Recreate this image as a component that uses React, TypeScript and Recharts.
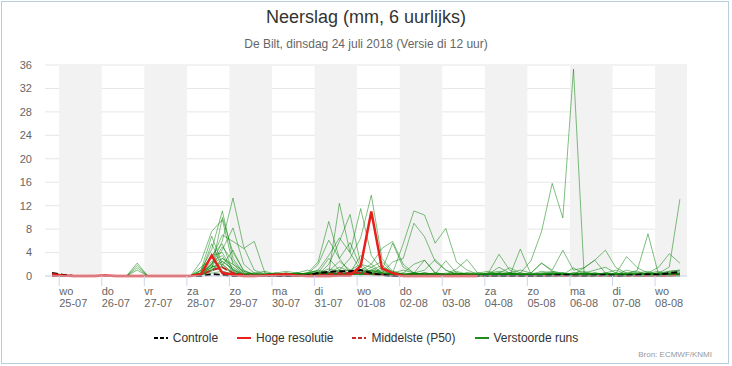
import React from "react";
import { LineChart, Line, XAxis, YAxis, CartesianGrid, ReferenceArea } from "recharts";

// hours after wo 25-07 00:00 (6-hourly forecast steps)
const hours = [
  -4, 2, 8, 14, 20, 26, 32, 38, 44, 50, 56, 62, 68, 74, 80, 86, 92, 98, 104, 110,
  116, 122, 128, 134, 140, 146, 152, 158, 164, 170, 176, 182, 188, 194, 200, 206, 212, 218, 224, 230,
  236, 242, 248, 254, 260, 266, 272, 278, 284, 290, 296, 302, 308, 314, 320, 326, 332, 338, 344, 350,
];

const dayNames = ["wo", "do", "vr", "za", "zo", "ma", "di", "wo", "do", "vr", "za", "zo", "ma", "di", "wo"];
const dayDates = ["25-07", "26-07", "27-07", "28-07", "29-07", "30-07", "31-07", "01-08", "02-08", "03-08", "04-08", "05-08", "06-08", "07-08", "08-08"];
const dayTicks = [0, 24, 48, 72, 96, 120, 144, 168, 192, 216, 240, 264, 288, 312, 336];
const yTicks = [0, 4, 8, 12, 16, 20, 24, 28, 32, 36];
const shadedDays = [[0, 24], [48, 72], [96, 120], [144, 168], [192, 216], [240, 264], [288, 312], [336, 354]];

const controle = [0.5,0.2,0,0, 0,0,0,0, 0,0,0,0, 0,0,0,0.3, 0.2,0,0,0, 0,0,0,0, 0.1,0.5,0.7,0.8, 0.8,1.0,0.5,0.2, 0,0,0,0, 0,0,0,0, 0,0,0,0, 0,0,0,0.1, 0.2,0.1,0,0.1, 0.2,0,0.1,0.2, 0.3,0.2,0.5,0.7];
const hogeResolutie = [0.3,0.1,0,0, 0,0.1,0,0, 0,0,0,0, 0,0,0.3,3.5, 0.5,0.2,0,0, 0.1,0.2,0.3,0.1, 0,0,0,0.1, 0.1,1.7,11.0,1.3, 0.5,0,0,0, 0,0,0,0, 0,null,null,null, null,null,null,null, null,null,null,null, null,null,null,null, null,null,null,null];
const middelste = [0,0,0,0, 0,0,0,0, 0,0,0,0, 0,0,0.2,1.0, 1.5,0.5,0.2,0, 0,0,0,0, 0,0.2,0.3,0.5, 0.5,0.5,0.3,0.2, 0,0,0,0, 0,0,0,0, 0,0,0,0, 0,0,0,0, 0,0,0,0, 0,0,0,0, 0,0,0,0.2];

const m01 = [0,0,0,0, 0,0,0,0, 0,0,0,0, 0,0,0.5,2.0, 6.0,13.3,5.0,1.0, 0.3,0.2,0.5,0.3, 0.2,0.5,1.2,0.8, 0.5,0.3,0.2,0.1, 0,0.2,0.5,0.3, 0.2,0.1,0,0, 0,0,0.3,0.5, 0.2,0,0,0, 0,0.2,0.5,0.3, 0.2,0,0,0.3, 0.5,0.2,0,0.3];
const m02 = [0,0,0,0, 0,0,0,0, 0,0,0,0, 0,0,1.0,4.5, 11.1,3.0,0.5,0.2, 0,0,0,0.3, 0.5,2.4,9.3,3.0, 0.5,0.2,0.3,1.5, 0.8,0.3,0.2,0, 0,0,0.3,0.2, 0,0.5,3.7,1.0, 0.2,0,0.3,0.5, 0.3,0.2,0,0, 0.2,0.5,0.3,0, 0,0.2,0.3,0.2];
const m03 = [0,0,0,0, 0,0,0,0, 0,0,0,0, 0,0,2.5,7.6, 9.6,2.0,0.3,0, 0,0.2,0.3,0.5, 0.3,0.5,0.5,12.4, 4.0,1.0,0.5,0.2, 0,0,0.3,0.5, 0.3,0,0,0, 0.2,0.4,0.3,0, 4.6,0.3,0.2,0, 0,0.3,0.5,0.2, 0,0,0.2,0, 0.3,0,0.2,0.5];
const m04 = [0,0,0,0, 0,0,0,0, 0,0,0,0, 0,0,1.5,3.0, 7.0,5.9,4.7,5.9, 0.5,0.3,0.2,0, 0,0.2,2.0,5.9, 10.5,2.0,0.5,0.3, 0.2,0,0,0, 0,0.2,0.3,0, 0,0,0,0.3, 0.2,0,0,0, 0,0,0.2,0.3, 0.5,0.2,0,0, 0,0,0.3,0.2];
const m05 = [0,0,0,0, 0,0,0,0, 0,0,0,0, 0,0,0.5,1.5, 2.5,1.0,0.3,0, 0,0,0.2,0.3, 0.3,0.2,0.5,0.3, 0.5,0.8,1.0,0.5, 0.3,0.2,0.5,0.3, 0,0.2,0.3,0, 0,0,0.2,0.3, 0.5,2.6,7.6,15.8, 9.9,35.3,0.3,0.2, 0,0.2,0.3,0, 0,0,0.2,0.3];
const m06 = [0,0,0,0, 0,0,0,0, 0,0,0,0, 0,0,0.8,3.5, 4.0,1.0,0.2,0, 0,0.2,0.3,0.2, 0.2,0.3,0.5,1.0, 3.0,6.5,13.8,3.0, 0.8,0.3,0.2,0, 0,0,0.2,0.3, 0,0,0,0.2, 0,0,0.3,0.2, 0,0,0,0.2, 0.3,0,0,0, 0,0,0,0.3];
const m07 = [0,0,0,0, 0,0,0,0, 0,0,0,0, 0,0,0.3,2.0, 5.0,2.5,0.5,0.2, 0,0,0.3,0.5, 0.3,1.0,3.5,6.5, 4.0,11.5,3.5,1.0, 0.3,0,0,0.2, 0.3,0,0,0, 0,0.3,0.5,0.2, 0,0,0,0.3, 0.5,0.2,0,0, 0,0.3,0.2,0, 0,0.3,0,0];
const m08 = [0,0,0,0, 0,0,0,0, 0,0,0,0, 0,0,0.2,1.0, 3.0,1.5,0.3,0, 0,0,0.2,0.3, 0.5,0.3,0.2,0.5, 0.3,0.5,1.0,0.5, 0.5,5.5,11.1,10.4, 5.6,8.1,2.4,1.0, 0.3,0.2,0,0, 0,0.2,0,0, 0,0,0.2,0, 0,0,0.2,0, 0,0,0,0.2];
const m09 = [0,0,0,0, 0,0,0,0, 0,0,0,0, 0,0,0.3,1.5, 2.0,0.5,0.2,0, 0,0.3,0.5,0.2, 0.2,0.3,0.5,0.8, 1.0,2.0,1.5,0.5, 2.4,3.0,9.0,6.7, 2.5,1.0,0.3,0.2, 0,0.3,1.5,0.5, 0.2,0,0,0.2, 0.3,0,0,0.2, 0,0,0,0.2, 0,0,0,0];
const m10 = [0.5,0,0,0, 0,0,0,0, 0,0,0,0, 0,0,0.3,1.0, 1.5,0.5,0.2,0, 0.2,0.3,0.2,0, 0,0.2,0.3,0.2, 0.3,0.2,0.5,0.3, 0.2,0.3,0,0, 0,0.2,0.5,0.3, 0.2,0,0.5,0.3, 0,0,0.2,0.5, 0.3,0.2,1.4,2.7, 4.4,1.4,0.5,0.3, 0.2,0.5,1.5,13.1];
const m11 = [0.3,0,0,0, 0,0,0,0, 0,0,0,0, 0,0,0.2,0.5, 0.8,0.3,0.2,0, 0.3,0.5,0.3,0.2, 0.2,0.5,0.3,0.2, 0.2,0.5,0.8,0.5, 0.3,0.2,0.5,1.0, 2.8,1.0,0.3,0, 0,0,0.2,0.3, 0.2,0,0.3,0.2, 0,0,0,0.3, 0.5,1.0,0.3,1.0, 7.2,0.2,0.5,0.3];
const m12 = [0,0,0,0, 0,0,0,0, 0,0,0,0, 0,0,0.5,2.5, 3.5,0.5,0.2,0, 0,0,0.2,0.2, 0.3,0.5,0.3,0.2, 0.5,0.3,0.8,1.0, 5.6,1.5,0.5,0.3, 0.2,0.3,0,0, 0.3,0.2,0,0, 0.3,0.2,0.3,0.5, 0.2,0,0.5,1.0, 1.5,0.5,3.3,1.4, 0.5,1.5,3.8,2.2];
const m13 = [0,0,0,0, 0,0,0,0, 0,0,0,0, 0,0,0.2,1.2, 10.0,4.0,1.0,0.2, 0,0,0,0.2, 0.2,0.3,0.5,0.3, 0.2,0.5,0.3,0.2, 0,0.2,0.3,0.5, 0.3,0.2,0.3,0.5, 0.3,0.2,0,0.5, 1.0,0.5,2.2,1.0, 4.4,1.0,1.4,2.7, 0.5,0.3,0.2,0, 0.2,0,0.3,0.5];
const m14 = [0,0,0,0, 0,0,0,0, 0,0,0,0, 0,0,0.5,5.5, 1.5,0.5,0.2,0, 0.2,0.5,0.8,0.5, 0.3,2.0,6.1,3.0, 5.7,1.5,0.5,0.3, 0.5,0.3,0.2,0.3, 0.5,0.3,0.2,0, 0.2,0.5,0.3,0, 0,0.3,0.5,0.2, 0.3,0,0,0, 0,0.2,0.3,0.5, 0.3,0.5,0.2,0];
const m15 = [0,0,0,0, 0,0,0,0, 2.2,0,0,0, 0,0,0.3,1.5, 4.5,8.2,2.0,0.5, 0.2,0,0.2,0.3, 0.5,1.0,0.5,0.3, 0.5,1.0,2.0,4.7, 5.9,2.0,0.5,0.2, 0,0.2,0.3,0.2, 0,0,0.3,0.5, 0.3,0.2,0,0, 0,0.5,0.3,0, 0.2,0,0,0, 0,0.3,0.5,0.3];
const m16 = [0,0,0,0, 0,0,0,0, 1.8,0,0,0, 0,0,1.0,6.8, 2.0,0.5,0.3,0.2, 0.3,0.5,0.3,0.2, 0.2,0.5,3.0,1.0, 0.5,3.5,2.0,0.5, 0.3,0.5,2.0,2.7, 0.5,0.3,0.8,0.3, 0.2,0.3,0.5,1.4, 0.5,0.2,0.3,0.3, 0.2,1.4,0.3,0.5, 0.3,0.2,0,0.3, 0.5,0.3,0.8,1.0];
const m17 = [0,0,0,0, 0,0,0,0, 1.4,0,0,0, 0,0,0.5,3.5, 5.5,0.8,0.2,0, 0,0.3,0.2,0.5, 1.0,0.5,0.2,0.5, 0.3,0.5,1.0,1.8, 0.5,0.3,0.2,0.5, 0.3,2.6,0.5,0.2, 0.5,0.3,0.2,0.5, 0.3,0.5,0.3,0.2, 0.5,0.3,0.2,0.5, 0.3,0.2,0.5,0.3, 0.3,0.5,0.3,0.5];
const m18 = [0.3,0.2,0,0, 0,0.1,0,0, 1.0,0,0,0, 0,0,0.2,1.0, 2.5,1.2,0.3,0.5, 0.2,0.3,0.5,0.2, 0.5,0.3,0.5,1.5, 0.8,0.5,0.3,0.5, 0.2,0.5,0.3,0.2, 0.5,0.3,0.2,0.5, 0.3,0.5,0.8,0.5, 0.2,0.3,0.8,0.5, 0.3,0.5,0.8,0.3, 0.5,0.3,0.5,0.8, 0.3,0.5,0.8,1.0];
const m19 = [0,0,0,0, 0,0,0,0, 0,0,0,0, 0,0,0.3,2.2, 3.0,2.0,0.8,0.3, 0.5,0.3,0.2,0.5, 0.3,0.5,0.8,2.5, 1.0,0.5,0.2,0.3, 0.5,0.2,0.5,0.3, 0.2,0.5,0.3,0.5, 0.5,0.8,0.3,0.2, 0.5,0.3,0.5,0.8, 0.5,0.3,0.5,0.3, 0.2,0.5,0.3,0.5, 0.8,0.3,0.5,0.8];
const m20 = [0,0,0,0, 0,0,0,0, 0,0,0,0, 0,0,0.5,1.8, 0.8,0.3,0.2,0.5, 0.8,0.3,0.2,0.3, 0.5,0.8,0.3,0.5, 0.5,0.3,0.5,0.8, 0.3,0.2,0.3,0.5, 0.3,0.2,0.5,0.3, 0.2,0.3,0.5,0.2, 0.3,0.2,0.3,0.5, 0.5,0.2,0.3,0.5, 0.3,0.5,0.2,0.3, 0.5,0.8,0.3,0.5];
const m21 = [0,0,0,0, 0,0,0,0, 0,0,0,0, 0,0,0.2,0.8, 1.8,4.4,0.8,0.3, 0.2,0,0.2,0.3, 0.3,0.5,0.3,0.2, 0.3,0.5,1.5,2.5, 0.5,1.0,0.5,2.7, 0.5,0.3,1.2,2.8, 0.5,0.2,0.3,0.2, 0.3,0.5,2.2,0.8, 0.3,0.5,0.3,0.2, 0.3,0.2,1.0,0.5, 0.3,0.2,0.5,0.3];

const members = [m01, m02, m03, m04, m05, m06, m07, m08, m09, m10, m11, m12, m13, m14, m15, m16, m17, m18, m19, m20, m21];

const chartData = hours.map((t, i) => {
  const row: Record<string, number | null> = {
    t,
    controle: controle[i],
    hres: hogeResolutie[i],
    p50: middelste[i],
  };
  members.forEach((m, k) => {
    row["m" + k] = m[i];
  });
  return row;
});

const FONT = '"Liberation Sans", Arial, Helvetica, sans-serif';

const DayTick = (props: any) => {
  const { x, y, payload } = props;
  const idx = dayTicks.indexOf(payload.value);
  return (
    <g>
      <text x={x} y={y + 9} fill="#666" stroke="none" fontSize={11} textAnchor="start">{dayNames[idx]}</text>
      <text x={x} y={y + 21} fill="#666" stroke="none" fontSize={11} textAnchor="start">{dayDates[idx]}</text>
    </g>
  );
};

const legendItems = [
  { name: "Controle", color: "#000", dash: "4 2" },
  { name: "Hoge resolutie", color: "#e8201c", dash: undefined },
  { name: "Middelste (P50)", color: "#c62828", dash: "4 2" },
  { name: "Verstoorde runs", color: "#1e8c1e", dash: undefined },
];

const App = () => {
  return (
    <div style={{ position: "absolute", left: 0, top: 0, width: 732, height: 366, background: "#fff", fontFamily: FONT }}>
      <div style={{ position: "absolute", left: 1, top: 1, width: 726, height: 361, border: "1px solid #b7cde0" }} />
      <div style={{ position: "absolute", top: 8, left: 0, width: 732, textAlign: "center", fontSize: 18, lineHeight: "18px", color: "#333" }}>
        Neerslag (mm, 6 uurlijks)
      </div>
      <div style={{ position: "absolute", top: 38, left: 0, width: 732, textAlign: "center", fontSize: 12, lineHeight: "12px", color: "#666" }}>
        De Bilt, dinsdag 24 juli 2018 (Versie di 12 uur)
      </div>
      <LineChart width={732} height={366} data={chartData} margin={{ top: 65, right: 0, bottom: 50, left: 0 }}>
        {shadedDays.map(([a, b]) => (
          <ReferenceArea key={a} x1={a} x2={b} yAxisId="left" fill="#f2f2f2" fillOpacity={1} stroke="none" ifOverflow="hidden" />
        ))}
        <CartesianGrid yAxisId="left" vertical={false} stroke="#e6e6e6" />
        <XAxis
          dataKey="t"
          type="number"
          domain={[-8, 354]}
          ticks={dayTicks}
          allowDataOverflow
          height={40}
          tickSize={10}
          tickMargin={0}
          axisLine={{ stroke: "#ccd6eb" }}
          tickLine={{ stroke: "#ccd6eb" }}
          tick={<DayTick />}
          interval={0}
        />
        <YAxis yAxisId="left" width={45} domain={[0, 36]} ticks={yTicks} axisLine={false} tickLine={false} tickSize={8} tickMargin={5} tick={{ fill: "#666", fontSize: 11 }} interval={0} />
        <YAxis yAxisId="right" orientation="right" width={45} domain={[0, 36]} ticks={yTicks} axisLine={false} tickLine={false} tickSize={8} tickMargin={5} tick={{ fill: "#666", fontSize: 11 }} interval={0} />
        {members.map((_, k) => (
          <Line
            key={k}
            yAxisId="left"
            dataKey={"m" + k}
            type="linear"
            stroke="#008000"
            strokeOpacity={0.5}
            strokeWidth={1}
            dot={false}
            activeDot={false}
            isAnimationActive={false}
          />
        ))}
        <Line yAxisId="left" dataKey="p50" type="linear" stroke="#c62828" strokeWidth={2} strokeDasharray="6 3" dot={false} isAnimationActive={false} />
        <Line yAxisId="left" dataKey="controle" type="linear" stroke="#000" strokeWidth={2} strokeDasharray="6 3" dot={false} isAnimationActive={false} />
        <Line yAxisId="left" dataKey="hres" type="linear" stroke="#e8201c" strokeWidth={2.5} dot={false} isAnimationActive={false} />
      </LineChart>
      <div style={{ position: "absolute", top: 331, left: 0, width: 732, display: "flex", justifyContent: "center", gap: 19, fontSize: 12, lineHeight: "14px", color: "#333" }}>
        {legendItems.map((it) => (
          <span key={it.name} style={{ display: "flex", alignItems: "center" }}>
            <svg width={14} height={10}>
              <line x1={0} y1={5} x2={14} y2={5} stroke={it.color} strokeWidth={2} strokeDasharray={it.dash} />
            </svg>
            <span style={{ marginLeft: 5 }}>{it.name}</span>
          </span>
        ))}
      </div>
      <div style={{ position: "absolute", top: 350, right: 20, fontSize: 8, lineHeight: "10px", color: "#999" }}>
        Bron: ECMWF/KNMI
      </div>
    </div>
  );
};

export default App;
